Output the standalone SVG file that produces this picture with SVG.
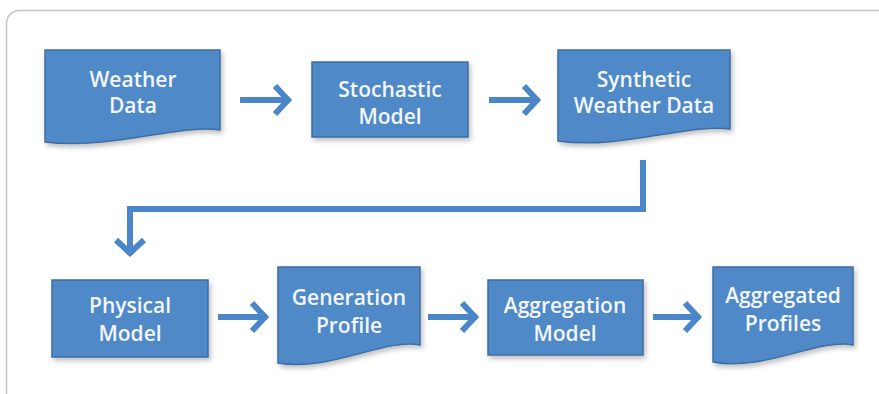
<svg xmlns="http://www.w3.org/2000/svg" width="879" height="394" viewBox="0 0 879 394">
<style>
.box{fill:#5089c7;stroke:#3c6da4;stroke-width:1.5;filter:url(#sh)}
.lbl{font-family:"Open Sans","Liberation Sans",sans-serif;font-weight:600;font-size:21px;fill:#f3f6fa;text-anchor:middle}
.con{fill:none;stroke:#4a86c8;stroke-width:6;stroke-linejoin:miter}
</style>
<defs>
<filter id="sh" x="-10%" y="-10%" width="125%" height="130%">
<feDropShadow dx="2" dy="3" stdDeviation="2.5" flood-color="#000" flood-opacity="0.25"/>
</filter>
<marker id="chev" markerUnits="userSpaceOnUse" viewBox="-20 -20 24 40" markerWidth="24" markerHeight="40" refX="0" refY="0" orient="auto">
<path d="M-15,-14 L-2,0 L-15,14" fill="none" stroke="#4a86c8" stroke-width="6" stroke-linejoin="miter"/>
</marker>
</defs>
<rect x="6.5" y="10.5" width="900" height="420" rx="13" fill="#fff" stroke="#c4c4c4" stroke-width="1.5"/>
<g id="connectors">
<path class="con" d="M240,100 H290" marker-end="url(#chev)"/>
<path class="con" d="M489,100 H539" marker-end="url(#chev)"/>
<path class="con" d="M643,160 V209 H130 V255" marker-end="url(#chev)"/>
<path class="con" d="M218,317 H267" marker-end="url(#chev)"/>
<path class="con" d="M428,317 H477" marker-end="url(#chev)"/>
<path class="con" d="M653,317 H700" marker-end="url(#chev)"/>
</g>
<g id="weather-data">
<path class="box" d="M45,50 H220 V130 C180,124 110,150 45,142 Z"/>
<text class="lbl" x="133" y="87">Weather</text>
<text class="lbl" x="133" y="113">Data</text>
</g>
<g id="stochastic-model">
<rect class="box" x="312" y="62" width="156" height="75"/>
<text class="lbl" x="390" y="97">Stochastic</text>
<text class="lbl" x="390" y="124">Model</text>
</g>
<g id="synthetic-weather-data">
<path class="box" d="M558,50 H730 V129 C690,123 620,150 558,141 Z"/>
<text class="lbl" x="644" y="87">Synthetic</text>
<text class="lbl" x="644" y="113">Weather Data</text>
</g>
<g id="physical-model">
<rect class="box" x="52" y="280" width="156" height="77"/>
<text class="lbl" x="130" y="313">Physical</text>
<text class="lbl" x="130" y="341">Model</text>
</g>
<g id="generation-profile">
<path class="box" d="M278,267 H420 V345 C385,338 330,372 278,363 Z"/>
<text class="lbl" x="349" y="305">Generation</text>
<text class="lbl" x="349" y="333">Profile</text>
</g>
<g id="aggregation-model">
<rect class="box" x="488" y="280" width="155" height="75"/>
<text class="lbl" x="565" y="313">Aggregation</text>
<text class="lbl" x="565" y="341">Model</text>
</g>
<g id="aggregated-profiles">
<path class="box" d="M713,267 H853 V345 C818,338 764,372 713,362 Z"/>
<text class="lbl" x="783" y="303">Aggregated</text>
<text class="lbl" x="783" y="331">Profiles</text>
</g>
</svg>
